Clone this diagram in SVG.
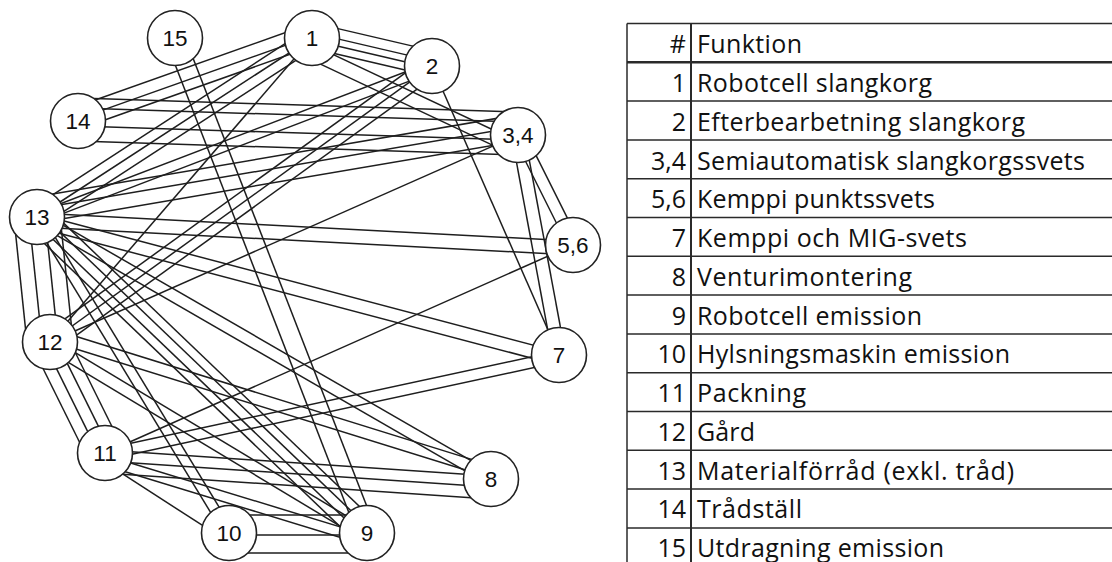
<svg xmlns="http://www.w3.org/2000/svg" width="1112" height="562" viewBox="0 0 1112 562">
<style>
.e line{stroke:#1e1e1e;stroke-width:1.5;fill:none}
.n circle{fill:#fff;stroke:#222;stroke-width:1.6}
.n text{font-family:"Liberation Sans",Arial,sans-serif;font-size:22.5px;fill:#111;text-anchor:middle;dominant-baseline:central}
.t line{stroke:#2a2a2a;stroke-width:1.5}
.t text{font-family:"Open Sans","Noto Sans",sans-serif;font-size:25px;fill:#111}
.t .num{text-anchor:end}
</style>
<rect width="1112" height="562" fill="#fff"/>
<g id="connectors" class="e">
<g transform="translate(312,38) rotate(13.13)"><line x1="0" y1="-15" x2="123.2" y2="-15"/><line x1="0" y1="-5" x2="123.2" y2="-5"/><line x1="0" y1="2" x2="123.2" y2="2"/><line x1="0" y1="10" x2="123.2" y2="10"/></g>
<g transform="translate(312,38) rotate(25.21)"><line x1="0" y1="6" x2="227.7" y2="6"/><line x1="0" y1="20" x2="227.7" y2="20"/></g>
<g transform="translate(432,66) rotate(66.28)"><line x1="0" y1="0" x2="315.7" y2="0"/></g>
<g transform="translate(518,135) rotate(79.44)"><line x1="0" y1="-6.5" x2="223.8" y2="-6.5"/><line x1="0" y1="6.5" x2="223.8" y2="6.5"/></g>
<g transform="translate(518,135) rotate(63.43)"><line x1="0" y1="-7" x2="123" y2="-7"/><line x1="0" y1="5" x2="123" y2="5"/></g>
<g transform="translate(78,121) rotate(1.82)"><line x1="0" y1="-23" x2="440.2" y2="-23"/><line x1="0" y1="-13" x2="440.2" y2="-13"/><line x1="0" y1="5" x2="440.2" y2="5"/><line x1="0" y1="20" x2="440.2" y2="20"/></g>
<g transform="translate(78,121) rotate(-19.53)"><line x1="0" y1="-14" x2="248.3" y2="-14"/><line x1="0" y1="-2" x2="248.3" y2="-2"/><line x1="0" y1="8" x2="248.3" y2="8"/></g>
<g transform="translate(175,38) rotate(68.80)"><line x1="0" y1="-9.5" x2="530.9" y2="-9.5"/><line x1="0" y1="9.5" x2="530.9" y2="9.5"/></g>
<g transform="translate(37,217) rotate(-33.06)"><line x1="0" y1="-10" x2="328.1" y2="-10"/><line x1="0" y1="0" x2="328.1" y2="0"/><line x1="0" y1="10" x2="328.1" y2="10"/></g>
<g transform="translate(37,217) rotate(-20.92)"><line x1="0" y1="-4" x2="422.9" y2="-4"/><line x1="0" y1="6" x2="422.9" y2="6"/></g>
<g transform="translate(37,217) rotate(-9.67)"><line x1="0" y1="-20" x2="487.9" y2="-20"/><line x1="0" y1="-8" x2="487.9" y2="-8"/><line x1="0" y1="6" x2="487.9" y2="6"/></g>
<g transform="translate(50,342) rotate(-23.86)"><line x1="0" y1="0" x2="511.7" y2="0"/></g>
<g transform="translate(50,342) rotate(-35.85)"><line x1="0" y1="-10" x2="471.3" y2="-10"/><line x1="0" y1="0" x2="471.3" y2="0"/><line x1="0" y1="10" x2="471.3" y2="10"/></g>
<g transform="translate(50,342) rotate(-49.24)"><line x1="0" y1="0" x2="401.3" y2="0"/></g>
<g transform="translate(37,217) rotate(2.99)"><line x1="0" y1="-4" x2="536.7" y2="-4"/><line x1="0" y1="10" x2="536.7" y2="10"/></g>
<g transform="translate(37,217) rotate(14.81)"><line x1="0" y1="-3" x2="539.9" y2="-3"/><line x1="0" y1="10" x2="539.9" y2="10"/></g>
<g transform="translate(37,217) rotate(84.06)"><line x1="0" y1="-23" x2="125.7" y2="-23"/><line x1="0" y1="-8" x2="125.7" y2="-8"/><line x1="0" y1="8" x2="125.7" y2="8"/><line x1="0" y1="23" x2="125.7" y2="23"/></g>
<g transform="translate(37,217) rotate(58.72)"><line x1="0" y1="-5" x2="369.8" y2="-5"/><line x1="0" y1="5" x2="369.8" y2="5"/></g>
<g transform="translate(37,217) rotate(43.76)"><line x1="0" y1="-14" x2="456.9" y2="-14"/><line x1="0" y1="-5" x2="456.9" y2="-5"/><line x1="0" y1="5" x2="456.9" y2="5"/><line x1="0" y1="14" x2="456.9" y2="14"/></g>
<g transform="translate(37,217) rotate(29.99)"><line x1="0" y1="-6" x2="524.2" y2="-6"/><line x1="0" y1="6" x2="524.2" y2="6"/></g>
<g transform="translate(50,342) rotate(63.65)"><line x1="0" y1="-18" x2="123.9" y2="-18"/><line x1="0" y1="-6" x2="123.9" y2="-6"/><line x1="0" y1="6" x2="123.9" y2="6"/><line x1="0" y1="18" x2="123.9" y2="18"/></g>
<g transform="translate(50,342) rotate(17.26)"><line x1="0" y1="-13" x2="461.8" y2="-13"/><line x1="0" y1="-1" x2="461.8" y2="-1"/></g>
<g transform="translate(50,342) rotate(31.07)"><line x1="0" y1="-4" x2="370.1" y2="-4"/><line x1="0" y1="8" x2="370.1" y2="8"/></g>
<g transform="translate(105,453) rotate(-23.96)"><line x1="0" y1="0" x2="512.1" y2="0"/></g>
<g transform="translate(105,453) rotate(-12.18)"><line x1="0" y1="-4" x2="464.5" y2="-4"/><line x1="0" y1="7" x2="464.5" y2="7"/></g>
<g transform="translate(105,453) rotate(3.85)"><line x1="0" y1="-3" x2="386.9" y2="-3"/><line x1="0" y1="8" x2="386.9" y2="8"/><line x1="0" y1="20" x2="386.9" y2="20"/></g>
<g transform="translate(105,453) rotate(16.98)"><line x1="0" y1="2" x2="273.9" y2="2"/><line x1="0" y1="12" x2="273.9" y2="12"/></g>
<g transform="translate(105,453) rotate(32.83)"><line x1="0" y1="8" x2="147.6" y2="8"/></g>
<g transform="translate(229,533)"><line x1="0" y1="-18" x2="138" y2="-18"/><line x1="0" y1="2" x2="138" y2="2"/><line x1="0" y1="20" x2="138" y2="20"/></g>
</g>
<g id="node-1" class="n"><circle cx="312" cy="38" r="27.5"/><text x="312" y="38">1</text></g>
<g id="node-2" class="n"><circle cx="432" cy="66" r="27.5"/><text x="432" y="66">2</text></g>
<g id="node-3-4" class="n"><circle cx="518" cy="135" r="27.5"/><text x="518" y="135">3,4</text></g>
<g id="node-5-6" class="n"><circle cx="573" cy="245" r="27.5"/><text x="573" y="245">5,6</text></g>
<g id="node-7" class="n"><circle cx="559" cy="355" r="27.5"/><text x="559" y="355">7</text></g>
<g id="node-8" class="n"><circle cx="491" cy="479" r="27.5"/><text x="491" y="479">8</text></g>
<g id="node-9" class="n"><circle cx="367" cy="533" r="27.5"/><text x="367" y="533">9</text></g>
<g id="node-10" class="n"><circle cx="229" cy="533" r="27.5"/><text x="229" y="533">10</text></g>
<g id="node-11" class="n"><circle cx="105" cy="453" r="27.5"/><text x="105" y="453">11</text></g>
<g id="node-12" class="n"><circle cx="50" cy="342" r="27.5"/><text x="50" y="342">12</text></g>
<g id="node-13" class="n"><circle cx="37" cy="217" r="27.5"/><text x="37" y="217">13</text></g>
<g id="node-14" class="n"><circle cx="78" cy="121" r="27.5"/><text x="78" y="121">14</text></g>
<g id="node-15" class="n"><circle cx="175" cy="38" r="27.5"/><text x="175" y="38">15</text></g>
<g id="table" class="t">
<line x1="627" y1="23.5" x2="1112" y2="23.5"/>
<line x1="627" y1="62.3" x2="1112" y2="62.3" style="stroke-width:2.5"/>
<line x1="627" y1="101.1" x2="1112" y2="101.1"/>
<line x1="627" y1="139.9" x2="1112" y2="139.9"/>
<line x1="627" y1="178.7" x2="1112" y2="178.7"/>
<line x1="627" y1="217.5" x2="1112" y2="217.5"/>
<line x1="627" y1="256.3" x2="1112" y2="256.3"/>
<line x1="627" y1="295.1" x2="1112" y2="295.1"/>
<line x1="627" y1="333.9" x2="1112" y2="333.9"/>
<line x1="627" y1="372.7" x2="1112" y2="372.7"/>
<line x1="627" y1="411.5" x2="1112" y2="411.5"/>
<line x1="627" y1="450.3" x2="1112" y2="450.3"/>
<line x1="627" y1="489.1" x2="1112" y2="489.1"/>
<line x1="627" y1="527.9" x2="1112" y2="527.9"/>
<line x1="627" y1="23.5" x2="627" y2="562"/>
<line x1="691" y1="23.5" x2="691" y2="562" style="stroke-width:2"/>
<text class="num" x="686" y="53">#</text><text x="697" y="53" textLength="105">Funktion</text>
<text class="num" x="686" y="92">1</text><text x="697" y="92" textLength="235">Robotcell slangkorg</text>
<text class="num" x="686" y="131">2</text><text x="697" y="131" textLength="328">Efterbearbetning slangkorg</text>
<text class="num" x="686" y="170">3,4</text><text x="697" y="170" textLength="388">Semiautomatisk slangkorgssvets</text>
<text class="num" x="686" y="208">5,6</text><text x="697" y="208" textLength="238">Kemppi punktssvets</text>
<text class="num" x="686" y="247">7</text><text x="697" y="247" textLength="270">Kemppi och MIG-svets</text>
<text class="num" x="686" y="286">8</text><text x="697" y="286" textLength="215">Venturimontering</text>
<text class="num" x="686" y="325">9</text><text x="697" y="325" textLength="225">Robotcell emission</text>
<text class="num" x="686" y="363">10</text><text x="697" y="363" textLength="313">Hylsningsmaskin emission</text>
<text class="num" x="686" y="402">11</text><text x="697" y="402" textLength="109">Packning</text>
<text class="num" x="686" y="441">12</text><text x="697" y="441" textLength="58">Gård</text>
<text class="num" x="686" y="480">13</text><text x="697" y="480" textLength="317">Materialförråd (exkl. tråd)</text>
<text class="num" x="686" y="518">14</text><text x="697" y="518" textLength="105">Trådställ</text>
<text class="num" x="686" y="557">15</text><text x="697" y="557" textLength="247">Utdragning emission</text>
</g>
</svg>
